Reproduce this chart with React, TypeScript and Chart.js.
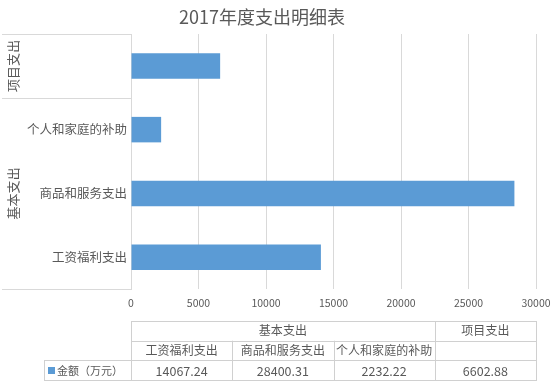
import React, { useEffect, useRef } from "react";
import { Chart, registerables } from "chart.js";

Chart.register(...registerables);

const titleText = "2017年度支出明细表";
const subCategories = ["工资福利支出", "商品和服务支出", "个人和家庭的补助", ""];
const groupNames = ["基本支出", "基本支出", "基本支出", "项目支出"];
const amounts = [14067.24, 28400.31, 2232.22, 6602.88];
const seriesName = "金额（万元）";
const xMin = 0;
const xMax = 30000;
const xStep = 5000;

const FONT = "'Noto Sans CJK SC', 'Noto Sans', sans-serif";
const TEXT = "#595959";
const GRID = "#d9d9d9";
const BAR = "#5B9BD5";

function groupRuns() {
  const runs: { name: string; from: number; to: number }[] = [];
  groupNames.forEach((g, i) => {
    const last = runs[runs.length - 1];
    if (last && last.name === g) last.to = i;
    else runs.push({ name: g, from: i, to: i });
  });
  return runs;
}

const decorPlugin = {
  id: "decor",
  afterDraw(chart: any) {
    const ctx = chart.ctx;
    const area = chart.chartArea;
    const yScale = chart.scales.y;
    ctx.save();
    // title
    ctx.fillStyle = TEXT;
    ctx.font = `18px ${FONT}`;
    ctx.textAlign = "center";
    ctx.textBaseline = "middle";
    ctx.fillText(titleText, 262, 17);

    // multi-level category axis lines
    ctx.strokeStyle = GRID;
    ctx.lineWidth = 1;
    const runs = groupRuns();
    const hline = (y: number, x0: number, x1: number) => {
      ctx.beginPath();
      ctx.moveTo(x0, Math.round(y) + 0.5);
      ctx.lineTo(x1, Math.round(y) + 0.5);
      ctx.stroke();
    };
    const vline = (x: number, y0: number, y1: number) => {
      ctx.beginPath();
      ctx.moveTo(Math.round(x) + 0.5, y0);
      ctx.lineTo(Math.round(x) + 0.5, y1);
      ctx.stroke();
    };
    runs.forEach((r) => {
      const yA = yScale.getPixelForValue(r.from - 0.5);
      const yB = yScale.getPixelForValue(r.to + 0.5);
      hline(yA, 2, area.left);
      hline(yB, 2, area.left);
      const cy = (yA + yB) / 2;
      ctx.save();
      ctx.translate(13, cy);
      ctx.rotate(-Math.PI / 2);
      ctx.fillStyle = TEXT;
      ctx.font = `13px ${FONT}`;
      ctx.textAlign = "center";
      ctx.textBaseline = "middle";
      ctx.fillText(r.name, 0, 0);
      ctx.restore();
    });

    // data table
    const top = 321;
    const rowH = 19.7;
    const n = subCategories.length;
    const colW = (area.right - area.left) / n;
    const colX = (i: number) => area.left + i * colW;
    const r0 = top, r1 = top + rowH, r2 = top + 2 * rowH, r3 = top + 3 * rowH;
    ctx.strokeStyle = "#d0d0d0";
    hline(r0, area.left, area.right + 1);
    hline(r1, area.left, area.right + 1);
    hline(r2, 44, area.right + 1);
    hline(r3, 44, area.right + 1);
    vline(44, r2, r3);
    vline(area.left, r0, r3);
    vline(area.right, r0, r3);
    runs.forEach((r) => {
      vline(colX(r.from), r0, r3);
      vline(colX(r.to + 1), r0, r3);
    });
    for (let i = 1; i < n; i++) vline(colX(i), r1, r3);

    ctx.fillStyle = TEXT;
    ctx.font = `12px ${FONT}`;
    ctx.textAlign = "center";
    ctx.textBaseline = "middle";
    runs.forEach((r) => {
      ctx.fillText(r.name, (colX(r.from) + colX(r.to + 1)) / 2, (r0 + r1) / 2);
    });
    subCategories.forEach((c, i) => {
      ctx.fillText(c, colX(i) + colW / 2, (r1 + r2) / 2);
    });
    ctx.font = `12.5px ${FONT}`;
    amounts.forEach((v, i) => {
      ctx.fillText(v.toFixed(2), colX(i) + colW / 2, (r2 + r3) / 2 + 0.5);
    });
    // legend key
    ctx.fillStyle = BAR;
    ctx.fillRect(48, Math.round((r2 + r3) / 2) - 3, 7, 7);
    ctx.fillStyle = TEXT;
    ctx.font = `11px ${FONT}`;
    ctx.textAlign = "left";
    ctx.fillText(seriesName, 57, (r2 + r3) / 2 + 0.5);
    ctx.restore();
  },
};

export default function App() {
  const ref = useRef<HTMLCanvasElement | null>(null);
  useEffect(() => {
    document.body.style.margin = "0";
    const canvas = ref.current;
    if (!canvas) return;
    const chart = new Chart(canvas, {
      type: "bar",
      data: {
        labels: subCategories,
        datasets: [
          {
            label: seriesName,
            data: amounts,
            backgroundColor: BAR,
            borderWidth: 0,
            barPercentage: 0.4,
            categoryPercentage: 1,
          },
        ],
      },
      options: {
        indexAxis: "y",
        animation: false,
        responsive: false,
        maintainAspectRatio: false,
        layout: { padding: { top: 34, right: 17, left: 0, bottom: 0 } },
        plugins: {
          legend: { display: false },
          title: { display: false },
          tooltip: { enabled: false },
        },
        scales: {
          x: {
            min: xMin,
            max: xMax,
            ticks: {
              stepSize: xStep,
              color: TEXT,
              font: { family: FONT, size: 10.5 },
              padding: 8,
              maxRotation: 0,
              callback: (v: any) => String(v),
            },
            grid: { color: GRID, drawTicks: false },
            border: { display: false },
            afterFit: (s: any) => {
              s.height = 94;
              s.paddingRight = 0;
              s.paddingLeft = 0;
            },
          },
          y: {
            reverse: true,
            ticks: {
              color: TEXT,
              font: { family: FONT, size: 12.5 },
              padding: 4,
            },
            grid: { display: false, drawTicks: false },
            border: { display: true, color: GRID },
            afterFit: (s: any) => {
              s.width = 131;
            },
          },
        },
      },
      plugins: [decorPlugin],
    } as any);
    return () => chart.destroy();
  }, []);
  return (
    <div style={{ width: 553, height: 383, background: "#fff" }}>
      <canvas ref={ref} width={553} height={383} style={{ display: "block" }} />
    </div>
  );
}
